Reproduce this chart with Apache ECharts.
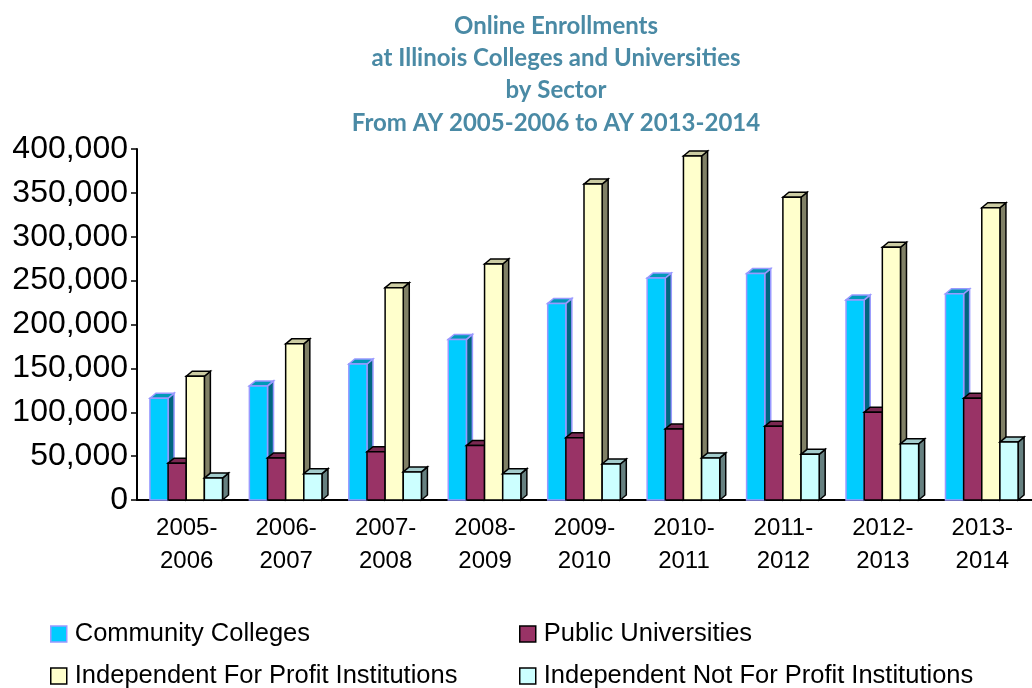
<!DOCTYPE html>
<html lang="en">
<head>
  <meta charset="UTF-8">
  <title>Online Enrollments</title>
  <script src="https://cdn.jsdelivr.net/npm/echarts@6/dist/echarts.min.js"></script>
  <style>
    * { margin: 0; padding: 0 }
    html, body { width: 100%; height: 100%; background: #fff; }
    #main { width: 1032px; height: 688px; }
  </style>
</head>
<body>
  <div id="main"></div>
<script type="text/javascript">
  // academic years on the x axis
  var years = ['2005-\n2006', '2006-\n2007', '2007-\n2008', '2008-\n2009', '2009-\n2010',
               '2010-\n2011', '2011-\n2012', '2012-\n2013', '2013-\n2014'];
  var communityColleges = [116000, 130000, 155000, 183000, 224000, 253000, 258000, 228000, 235000];
  var publicUniversities = [42000, 48000, 55000, 62000, 71000, 81000, 84000, 100000, 116000];
  var forProfit = [141000, 178000, 242000, 269000, 360000, 392000, 345000, 288000, 333000];
  var notForProfit = [25000, 30000, 32000, 30000, 41000, 48000, 52000, 64000, 66000];

  var chart = echarts.init(document.getElementById('main'));

  // fake 3d bar: front, side and top faces
  function bar3d(name, values, idx, front, side, top, border) {
    return {
      name: name,
      type: 'custom',
      itemStyle: {color: front, borderColor: border, borderWidth: 1.5},
      encode: {x: 0, y: 1},
      data: values.map(function (v, i) { return [i, v]; }),
      renderItem: function (params, api) {
        var ci = api.value(0), v = api.value(1);
        var p0 = api.coord([ci, 0]), p1 = api.coord([ci, v]);
        var cw = api.size([1, 0])[0];
        var bw = cw * 0.1825;
        var x = p0[0] - cw * 0.37 + idx * bw;
        var yb = p0[1], yt = p1[1];
        var dx = 6, dy = 5;
        var ln = {stroke: border, lineWidth: 1.5};
        return {
          type: 'group',
          children: [
            {type: 'polygon', shape: {points: [[x + bw, yt], [x + bw + dx, yt - dy], [x + bw + dx, yb - dy], [x + bw, yb]]},
             style: Object.assign({fill: side}, ln)},
            {type: 'polygon', shape: {points: [[x, yt], [x + dx, yt - dy], [x + bw + dx, yt - dy], [x + bw, yt]]},
             style: Object.assign({fill: top}, ln)},
            {type: 'rect', shape: {x: x, y: yt, width: bw, height: yb - yt},
             style: Object.assign({fill: front}, ln)}
          ]
        };
      }
    };
  }

  function legendAt(name, left, top, border) {
    return {
      data: [{name: name, icon: 'rect', itemStyle: {borderColor: border, borderWidth: 1.5}}],
      left: left,
      top: top,
      padding: 0,
      itemWidth: 16,
      itemHeight: 16,
      textStyle: {fontFamily: 'Liberation Sans', fontSize: 25.5, color: '#000', padding: [0, 0, 0, 3]}
    };
  }

  chart.setOption({
    animation: false,
    title: {
      text: 'Online Enrollments\nat Illinois Colleges and Universities\nby Sector\nFrom AY 2005-2006 to AY 2013-2014',
      left: 551,
      top: 5,
      textAlign: 'center',
      textStyle: {fontFamily: 'Lato', fontWeight: 'bold', fontSize: 24, color: '#4a8aa5', lineHeight: 32.3}
    },
    legend: [
      legendAt('Community Colleges', 50, 621, '#9999ff'),
      legendAt('Public Universities', 519, 621, '#000'),
      legendAt('Independent For Profit Institutions', 50, 663, '#000'),
      legendAt('Independent Not For Profit Institutions', 519, 663, '#000')
    ],
    grid: {left: 137, width: 901, top: 149, bottom: 188},
    xAxis: {
      type: 'category',
      data: years,
      axisLine: {lineStyle: {color: '#000', width: 2}},
      axisTick: {length: 6, lineStyle: {color: '#000', width: 1.5}},
      axisLabel: {fontFamily: 'Liberation Sans', fontSize: 24, color: '#000', lineHeight: 33, margin: 12}
    },
    yAxis: {
      type: 'value',
      min: 0,
      max: 400000,
      interval: 50000,
      splitLine: {show: false},
      axisLine: {show: true, lineStyle: {color: '#000', width: 2}},
      axisTick: {show: true, length: 6, lineStyle: {color: '#000', width: 1.5}},
      axisLabel: {
        fontFamily: 'Liberation Sans', fontSize: 32, color: '#000', margin: 9,
        formatter: function (v) { return v.toLocaleString('en-US'); }
      }
    },
    series: [
      bar3d('Community Colleges', communityColleges, 0, '#00ccff', '#006680', '#0099b8', '#9999ff'),
      bar3d('Public Universities', publicUniversities, 1, '#993366', '#6b2447', '#7a2952', '#000'),
      bar3d('Independent For Profit Institutions', forProfit, 2, '#ffffcc', '#808066', '#cccca3', '#000'),
      bar3d('Independent Not For Profit Institutions', notForProfit, 3, '#ccffff', '#668080', '#a3cccc', '#000')
    ]
  });
</script>
</body>
</html>
